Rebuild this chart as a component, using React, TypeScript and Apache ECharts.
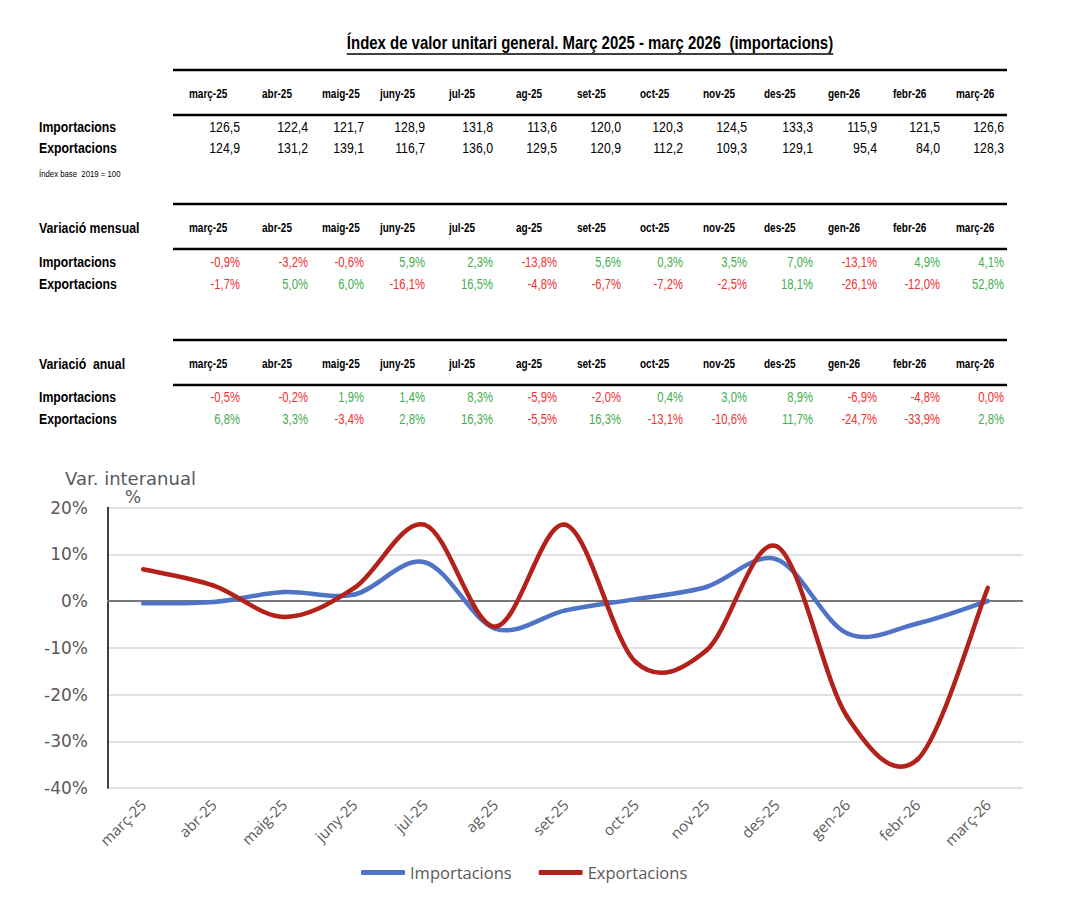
import React, { useEffect, useRef } from "react";
import * as echarts from "echarts";

// Month labels shared by the tables and the chart
const months = [
  "març-25", "abr-25", "maig-25", "juny-25", "jul-25", "ag-25", "set-25",
  "oct-25", "nov-25", "des-25", "gen-26", "febr-26", "març-26",
];

// Unit value index (base 2019 = 100)
const indexImports = [126.5, 122.4, 121.7, 128.9, 131.8, 113.6, 120.0, 120.3, 124.5, 133.3, 115.9, 121.5, 126.6];
const indexExports = [124.9, 131.2, 139.1, 116.7, 136.0, 129.5, 120.9, 112.2, 109.3, 129.1, 95.4, 84.0, 128.3];

// Month-on-month change (%)
const monthlyImports = [-0.9, -3.2, -0.6, 5.9, 2.3, -13.8, 5.6, 0.3, 3.5, 7.0, -13.1, 4.9, 4.1];
const monthlyExports = [-1.7, 5.0, 6.0, -16.1, 16.5, -4.8, -6.7, -7.2, -2.5, 18.1, -26.1, -12.0, 52.8];

// Year-on-year change (%)
const annualImports = [-0.5, -0.2, 1.9, 1.4, 8.3, -5.9, -2.0, 0.4, 3.0, 8.9, -6.9, -4.8, 0.0];
const annualExports = [6.8, 3.3, -3.4, 2.8, 16.3, -5.5, 16.3, -13.1, -10.6, 11.7, -24.7, -33.9, 2.8];

const seriesNames = ["Importacions", "Exportacions"];

// Layout
const SANS = "'Liberation Sans', Arial, sans-serif";
const NARROW = 0.82; // horizontal squeeze that gives the table a condensed face
const TITLE = "Índex de valor unitari general. Març 2025 - març 2026  (importacions)";
const COL_HEADER_X = [189, 262, 322, 380, 449, 516, 577, 640, 703, 764, 828, 893, 956];
const COL_RIGHT_X = [240, 308, 364, 425, 493, 557, 621, 683, 747, 813, 877, 940, 1004];
const RULE_X1 = 173;
const RULE_X2 = 1007;
const LABEL_X = 39;
const RED = "#ee3030";
const GREEN = "#3fae4e";
const BLUE_LINE = "#4f74c6";
const RED_LINE = "#b3221a";

const fmt = (v: number) => v.toFixed(1).replace(".", ",");

function rule(y: number) {
  return {
    type: "line",
    shape: { x1: RULE_X1, y1: y, x2: RULE_X2, y2: y },
    style: { stroke: "#000", lineWidth: 2.5 },
  };
}

function txt(x: number, y: number, text: string, opts: any = {}, squeeze = NARROW) {
  return {
    type: "text",
    x,
    y,
    scaleX: squeeze,
    style: {
      text,
      fontFamily: SANS,
      fontSize: 15,
      fontWeight: "normal",
      fill: "#000",
      align: "left",
      verticalAlign: "middle",
      ...opts,
    },
  };
}

function tableBlock(
  ruleTop: number,
  headerY: number,
  ruleMid: number,
  rowY: number[],
  caption: string | null,
  rows: number[][],
  pct: boolean
) {
  const els: any[] = [rule(ruleTop), rule(ruleMid)];
  if (caption) els.push(txt(LABEL_X, headerY, caption, { fontWeight: "bold" }));
  months.forEach((m, i) => {
    els.push(txt(COL_HEADER_X[i], headerY, m, { fontWeight: "bold", fontSize: 12.5 }, 0.8));
  });
  rows.forEach((vals, r) => {
    els.push(txt(LABEL_X, rowY[r], seriesNames[r], { fontWeight: "bold" }));
    vals.forEach((v, i) => {
      els.push(
        txt(
          COL_RIGHT_X[i],
          rowY[r],
          pct ? fmt(v) + "%" : fmt(v),
          {
            align: "right",
            fontSize: 15,
            fill: pct ? (v > 0 ? GREEN : RED) : "#000",
          },
          pct ? 0.75 : NARROW
        )
      );
    });
  });
  return els;
}

function measure(text: string, font: string) {
  const c = document.createElement("canvas");
  const ctx = c.getContext("2d");
  if (!ctx) return 590;
  ctx.font = font;
  return ctx.measureText(text).width;
}

// Smooth curve through the points of one series (cardinal spline, 1/6 tangents),
// drawn segment by segment from the axis coordinates of the data.
function curveSeries(name: string, values: number[], color: string, z: number, extra: any = {}) {
  const n = values.length;
  return {
    name,
    type: "custom",
    z,
    data: values.map((v, i) => [i, v]),
    encode: { x: 0, y: 1 },
    itemStyle: { color },
    renderItem: (params: any, api: any) => {
      const i = params.dataIndex;
      if (i >= n - 1) return { type: "group", children: [] };
      const p = (k: number) => {
        const kk = Math.max(0, Math.min(n - 1, k));
        return api.coord([kk, values[kk]]);
      };
      const p0 = p(i - 1);
      const p1 = p(i);
      const p2 = p(i + 1);
      const p3 = p(i + 2);
      return {
        type: "bezierCurve",
        shape: {
          x1: p1[0],
          y1: p1[1],
          x2: p2[0],
          y2: p2[1],
          cpx1: p1[0] + (p2[0] - p0[0]) / 6,
          cpy1: p1[1] + (p2[1] - p0[1]) / 6,
          cpx2: p2[0] - (p3[0] - p1[0]) / 6,
          cpy2: p2[1] - (p3[1] - p1[1]) / 6,
        },
        style: { stroke: color, lineWidth: 4.5, fill: "none", lineCap: "round" },
      };
    },
    ...extra,
  };
}

export default function App() {
  const ref = useRef<HTMLDivElement>(null);

  useEffect(() => {
    if (!ref.current) return;
    const chart = echarts.init(ref.current, undefined, { renderer: "svg" });

    const titleCx = 590;
    const titleScale = 0.83;
    const titleW = measure(TITLE, `bold 18px ${SANS}`) * titleScale;

    const graphics: any[] = [
      txt(titleCx, 43, TITLE, { fontWeight: "bold", fontSize: 18, align: "center" }, titleScale),
      {
        type: "line",
        shape: { x1: titleCx - titleW / 2, y1: 54, x2: titleCx + titleW / 2, y2: 54 },
        style: { stroke: "#000", lineWidth: 1.3 },
      },
      ...tableBlock(70, 94, 115, [127, 148], null, [indexImports, indexExports], false),
      txt(LABEL_X, 174, "Índex base  2019 = 100", { fontSize: 9.5 }),
      ...tableBlock(204, 228, 249, [262, 284], "Variació mensual", [monthlyImports, monthlyExports], true),
      ...tableBlock(340, 364, 385, [397, 419], "Variació  anual", [annualImports, annualExports], true),
      {
        type: "text",
        x: 65,
        y: 478,
        style: {
          text: "Var. interanual",
          fontFamily: "'DejaVu Sans', sans-serif",
          fontSize: 18,
          fill: "#595959",
          align: "left",
          verticalAlign: "middle",
        },
      },
      {
        type: "text",
        x: 133,
        y: 497,
        style: {
          text: "%",
          fontFamily: "'DejaVu Sans', sans-serif",
          fontSize: 17,
          fill: "#595959",
          align: "center",
          verticalAlign: "middle",
        },
      },
    ];

    chart.setOption({
      animation: false,
      backgroundColor: "#fff",
      graphic: graphics,
      grid: { left: 108, right: 43, top: 507.5, bottom: 126 },
      legend: {
        data: seriesNames,
        left: 356,
        top: 859,
        icon: "roundRect",
        itemWidth: 44,
        itemHeight: 5,
        itemGap: 27,
        textStyle: { fontFamily: "'Open Sans', sans-serif", fontSize: 16.5, color: "#595959" },
      },
      xAxis: {
        type: "category",
        data: months,
        boundaryGap: true,
        axisTick: { show: false },
        axisLine: { lineStyle: { color: "#d9d9d9", width: 1.5 } },
        axisLabel: {
          interval: 0,
          rotate: 45,
          margin: 14,
          fontFamily: "'Open Sans', sans-serif",
          fontSize: 15,
          color: "#595959",
        },
      },
      yAxis: {
        type: "value",
        min: -40,
        max: 20,
        interval: 10,
        axisLine: { show: true, lineStyle: { color: "#000", width: 1.5 } },
        axisTick: { show: false },
        splitLine: { lineStyle: { color: "#d9d9d9", width: 1.5 } },
        axisLabel: {
          formatter: "{value}%",
          margin: 20,
          fontFamily: "'DejaVu Sans', sans-serif",
          fontSize: 17,
          color: "#595959",
        },
      },
      series: [
        curveSeries(seriesNames[0], annualImports, BLUE_LINE, 3, {
          markLine: {
            silent: true,
            symbol: "none",
            label: { show: false },
            lineStyle: { color: "#595959", width: 1.5, type: "solid" },
            data: [{ yAxis: 0 }],
            z: 1,
          },
        }),
        curveSeries(seriesNames[1], annualExports, RED_LINE, 4),
      ],
    });

    return () => chart.dispose();
  }, []);

  return (
    <div
      ref={ref}
      style={{ position: "fixed", left: 0, top: 0, width: 1066, height: 914, background: "#fff" }}
    />
  );
}
